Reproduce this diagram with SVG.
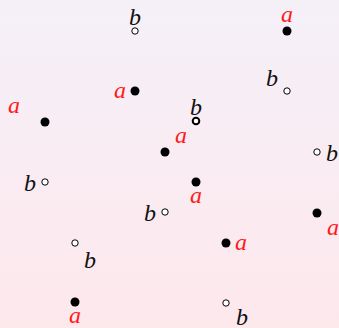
<svg xmlns="http://www.w3.org/2000/svg" width="339" height="328" viewBox="0 0 339 328">
<defs>
<linearGradient id="bg" x1="0" y1="0" x2="0" y2="1">
<stop offset="0" stop-color="#f5f0f8"/>
<stop offset="1" stop-color="#fde8ec"/>
</linearGradient>
</defs>
<style>
.a{fill:#000}
.b{fill:#fff;stroke:#000;stroke-width:1}
.bt{fill:#fff;stroke:#000;stroke-width:2}
text{font-family:"Liberation Serif","DejaVu Serif",serif;font-style:italic;font-size:24px;text-anchor:middle}
.la{fill:#ff1a1a}
.lb{fill:#111}
</style>
<rect width="339" height="328" fill="url(#bg)"/>
<g id="p1"><circle class="b" cx="135" cy="31" r="3.2"/><text class="lb" x="135" y="25">b</text></g>
<g id="p2"><circle class="a" cx="287" cy="31" r="4.5"/><text class="la" x="287" y="22">a</text></g>
<g id="p3"><circle class="a" cx="135" cy="91" r="4.5"/><text class="la" x="120" y="98">a</text></g>
<g id="p4"><circle class="b" cx="287" cy="91" r="3.2"/><text class="lb" x="272" y="86">b</text></g>
<g id="p5"><circle class="a" cx="45" cy="122" r="4.5"/><text class="la" x="14" y="113">a</text></g>
<g id="p6"><circle class="bt" cx="196" cy="121" r="3.3"/><text class="lb" x="196" y="115">b</text></g>
<g id="p7"><circle class="a" cx="165" cy="152" r="4.5"/><text class="la" x="181" y="143">a</text></g>
<g id="p8"><circle class="b" cx="317" cy="152" r="3.2"/><text class="lb" x="332" y="161">b</text></g>
<g id="p9"><circle class="b" cx="45" cy="182" r="3.2"/><text class="lb" x="30" y="191">b</text></g>
<g id="p10"><circle class="a" cx="196" cy="182" r="4.5"/><text class="la" x="196" y="203">a</text></g>
<g id="p11"><circle class="b" cx="165" cy="212" r="3.2"/><text class="lb" x="150" y="221">b</text></g>
<g id="p12"><circle class="a" cx="317" cy="213" r="4.5"/><text class="la" x="333" y="235">a</text></g>
<g id="p13"><circle class="b" cx="75" cy="243" r="3.2"/><text class="lb" x="90" y="268">b</text></g>
<g id="p14"><circle class="a" cx="226" cy="243" r="4.5"/><text class="la" x="241" y="250">a</text></g>
<g id="p15"><circle class="a" cx="75" cy="302" r="4.5"/><text class="la" x="75" y="323">a</text></g>
<g id="p16"><circle class="b" cx="226" cy="303" r="3.2"/><text class="lb" x="242" y="325">b</text></g>
<g id="connectors"/>
</svg>
